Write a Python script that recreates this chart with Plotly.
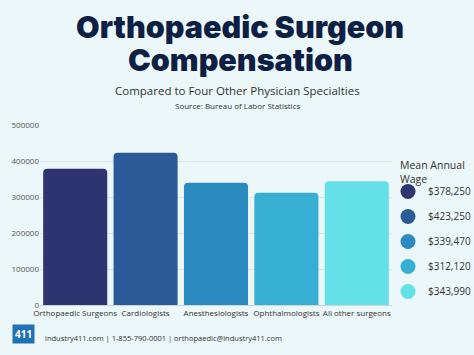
import plotly.graph_objects as go

categories = ["Orthopaedic Surgeons", "Cardiologists", "Anesthesiologists", "Ophthalmologists", "All other surgeons"]
wages = [378250, 423250, 339470, 312120, 343990]
colors = ["#2c3570", "#2b5b97", "#2b8abf", "#36afd3", "#64e1e8"]
y_ticks = [0, 100000, 200000, 300000, 400000, 500000]

L, R, T, B = 40, 392, 125, 305  # plot area in pixels
W, H = 474, 355

fig = go.Figure()
fig.add_trace(go.Bar(x=categories, y=wages, marker=dict(color=colors, line=dict(width=0)),
                     showlegend=False, hoverinfo="x+y"))
for i, (w, c) in enumerate(zip(wages, colors)):
    fig.add_trace(go.Scatter(x=[None], y=[None], mode="markers", name=f"${w:,}",
                             legendgroup=f"g{i}",
                             marker=dict(color=c, size=15, symbol="circle")))

fig.update_layout(
    width=W, height=H,
    margin=dict(l=L, r=W - R, t=T, b=H - B, autoexpand=False),
    paper_bgcolor="#ecf7f9",
    plot_bgcolor="rgba(0,0,0,0)",
    bargap=0.09,
    barcornerradius=4,
    font=dict(family="Open Sans", color="#333333"),
    xaxis=dict(tickfont=dict(size=8, color="#333333"), showgrid=False, showline=True,
               linecolor="#c9d6dc", linewidth=1, ticks="", fixedrange=True,
               tickangle=0, automargin=False),
    yaxis=dict(range=[0, 500000], tickvals=y_ticks, tickformat="d",
               tickfont=dict(size=8, color="#555555"), gridcolor="#dbe6ea", gridwidth=1,
               zeroline=False, showline=False, ticks="", fixedrange=True, automargin=False),
    legend=dict(x=(388 - L) / (R - L), y=(B - 177) / (B - T),
                xanchor="left", yanchor="top", font=dict(size=10, color="#333333"),
                bgcolor="rgba(0,0,0,0)", tracegroupgap=6, itemwidth=30),
)


def ann(text, x, y, size, color="#333333", family="Open Sans", weight=None, xanchor="center", **kw):
    f = dict(family=family, size=size, color=color)
    if weight:
        f["weight"] = weight
    fig.add_annotation(text=text, xref="paper", yref="paper",
                       x=(x - L) / (R - L), y=(B - y) / (B - T), showarrow=False,
                       xanchor=xanchor, yanchor="middle", font=f, **kw)


ann("Orthopaedic Surgeon", 240, 27, 30.5, color="#0e1f44", family="Inter", weight=900)
ann("Compensation", 240, 60, 30.5, color="#0e1f44", family="Inter", weight=900)
ann("Compared to Four Other Physician Specialties", 237, 90, 11.5, color="#333333")
ann("Source: Bureau of Labor Statistics", 237, 106, 8, color="#333333")
ann("Mean Annual<br>Wage", 398, 172, 10.5, color="#333333", xanchor="left", align="left")
ann("<b>411</b>", 12, 334, 10, color="#ffffff", xanchor="left", bgcolor="#1f73b3", borderpad=2)
ann("industry411.com | 1-855-790-0001 | orthopaedic@industry411.com", 43, 338, 7.5,
    color="#333333", xanchor="left")

fig.write_html("out.html", config=dict(displayModeBar=False),
               post_script="document.body.style.margin='0';document.body.style.background='#ecf7f9';")
